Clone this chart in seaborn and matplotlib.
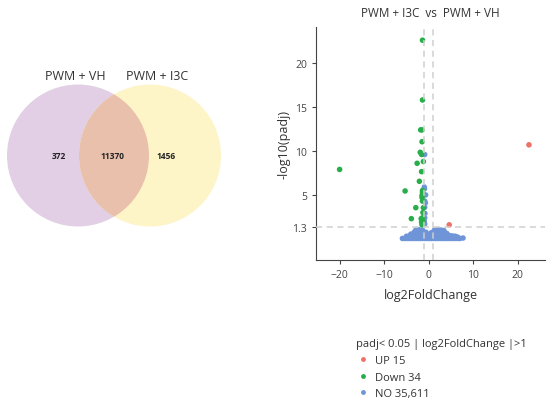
import numpy as np
import pandas as pd
import matplotlib
matplotlib.use("Agg")
import matplotlib.pyplot as plt
from matplotlib.patches import Circle
from matplotlib.lines import Line2D
import seaborn as sns

# Venn counts
venn_sets = ["PWM + VH", "PWM + I3C"]
venn_counts = [372, 11370, 1456]  # only VH, shared, only I3C

# volcano: significant up
up_x = [22.5, 4.6]
up_y = [10.7, 1.6]

# volcano: significant down
down_x = [-1.4, -1.4, -1.8, -1.5, -1.5, -1.9, -1.6, -1.2, -2.6, -1.6, -20.0,
          -2.1, -1.4, -1.4, -5.3, -1.5, -1.5, -1.4, -2.9, -1.2, -1.3, -3.9,
          -1.7, -1.4, -1.5, -1.3, -1.6]
down_y = [22.6, 15.8, 12.4, 12.4, 11.05, 9.85, 9.6, 8.8, 8.6, 7.65, 7.9,
          6.55, 5.5, 5.3, 5.45, 4.95, 4.7, 4.3, 3.55, 3.55, 3.0, 2.3,
          2.3, 2.4, 1.6, 2.0, 1.9]

# volcano: not significant (sketch of the dense cloud)
no_x = [-0.9, -1.0, -0.95, -0.7, -0.9, -0.75, -0.9, -0.85, -0.9, -1.0, -0.9,
        # row near 0
        -5.9, -5.4, -4.9, -4.4, -3.9, -3.4, -2.9, -2.4, -1.9, -1.4, -0.9, -0.4,
        0.1, 0.6, 1.1, 1.6, 2.1, 2.6, 3.1, 3.6, 4.1, 4.6, 5.1, 5.6, 6.1, 6.6, 7.0, 7.7,
        # row 0.3
        -5.0, -4.5, -4.0, -3.5, -3.0, -2.5, -2.0, -1.5, -1.0, -0.5, 0.0, 0.5,
        1.0, 1.5, 2.0, 2.5, 3.0, 3.5, 4.0, 4.5, 5.0, 5.5, 6.0, 6.5,
        # row 0.55
        -4.0, -3.5, -3.0, -2.5, -2.0, -1.5, -1.0, -0.5, 0.3, 0.8, 1.3, 1.8,
        2.3, 2.8, 3.3, 3.8, 4.3, 4.8, 5.4,
        # row 0.8
        -3.2, -2.7, -2.2, -1.7, -1.2, -0.6, 0.6, 1.1, 1.6, 2.1, 2.6, 3.1, 3.6, 4.1,
        # row 1.0
        -2.9, -2.2, -1.4, 1.3, 2.1, 2.8, 3.4]
no_y = [9.6, 5.9, 5.7, 5.0, 4.3, 4.1, 3.6, 2.9, 2.4, 2.0, 1.7,
        0.05, 0.05, 0.05, 0.05, 0.05, 0.05, 0.05, 0.05, 0.05, 0.05, 0.05, 0.05,
        0.05, 0.05, 0.05, 0.05, 0.05, 0.05, 0.05, 0.05, 0.05, 0.05, 0.05, 0.05, 0.05, 0.05, 0.05, 0.1,
        0.3, 0.3, 0.3, 0.3, 0.3, 0.3, 0.3, 0.3, 0.3, 0.3, 0.3, 0.3,
        0.3, 0.3, 0.3, 0.3, 0.3, 0.3, 0.3, 0.3, 0.3, 0.3, 0.3, 0.2,
        0.55, 0.55, 0.55, 0.55, 0.55, 0.55, 0.55, 0.55, 0.55, 0.55, 0.55, 0.55,
        0.55, 0.55, 0.55, 0.55, 0.45, 0.35, 0.3,
        0.8, 0.8, 0.8, 0.8, 0.8, 0.75, 0.7, 0.8, 0.8, 0.8, 0.8, 0.8, 0.75, 0.6,
        1.0, 1.05, 1.0, 1.0, 1.05, 1.0, 0.95]

legend_labels = ["UP 15", "Down 34", "NO 35,611"]
legend_title = "padj< 0.05 | log2FoldChange |>1"

colors = {"UP": "#ee7168", "Down": "#27ae4a", "NO": "#6f94d8"}

sns.set_style("ticks")
plt.rcParams["font.family"] = ["Open Sans", "DejaVu Sans"]

fig = plt.figure(figsize=(5.5, 4.02), dpi=100)

# --- Venn diagram (pixel coordinates of the canvas) ---
ax_v = fig.add_axes([0, 0, 1, 1])
ax_v.set_xlim(0, 550)
ax_v.set_ylim(402, 0)
ax_v.axis("off")

left = Circle((78, 156.5), 71, facecolor="#e2cfe5", edgecolor="none")
right = Circle((150, 156.5), 71, facecolor="#fdf5c8", edgecolor="none")
ax_v.add_patch(left)
ax_v.add_patch(right)
overlap = Circle((78, 156.5), 71, facecolor="#e9c0ac", edgecolor="none")
ax_v.add_patch(overlap)
overlap.set_clip_path(right)

ax_v.text(75, 77, venn_sets[0], ha="center", va="center", fontsize=9, color="#333333")
ax_v.text(157, 77, venn_sets[1], ha="center", va="center", fontsize=9, color="#333333")
for xpos, cnt in zip([59, 112, 166], venn_counts):
    ax_v.text(xpos, 157, str(cnt), ha="center", va="center", fontsize=6,
              fontweight="bold", color="#222222")

# --- volcano plot ---
df = pd.concat([
    pd.DataFrame({"log2FoldChange": no_x, "padj": no_y, "group": "NO"}),
    pd.DataFrame({"log2FoldChange": down_x, "padj": down_y, "group": "Down"}),
    pd.DataFrame({"log2FoldChange": up_x, "padj": up_y, "group": "UP"}),
], ignore_index=True)

ax = fig.add_axes([316 / 550, 1 - 261 / 402, 229 / 550, 233 / 402])
sns.scatterplot(data=df, x="log2FoldChange", y="padj", hue="group", palette=colors,
                s=16, linewidth=0, alpha=1, legend=False, ax=ax)

for xv in [-1, 1]:
    ax.axvline(xv, color="#d0d0d0", linestyle=(0, (4, 3)), linewidth=1.1, zorder=5)
ax.axhline(1.3, color="#d0d0d0", linestyle=(0, (4, 3)), linewidth=1.1, zorder=5)

ax.set_xlim(-25.3, 26.1)
ax.set_ylim(-2.4, 24.1)
ax.set_xticks([-20, -10, 0, 10, 20])
ax.set_xticklabels(["\u221220", "\u221210", "0", "10", "20"])
ax.set_yticks([1.3, 5, 10, 15, 20])
ax.set_yticklabels(["1.3", "5", "10", "15", "20"])
ax.tick_params(labelsize=7.5, colors="#444444", length=3, width=0.8)
for side in ["top", "right"]:
    ax.spines[side].set_visible(False)
for side in ["left", "bottom"]:
    ax.spines[side].set_color("#444444")
    ax.spines[side].set_linewidth(0.8)
ax.set_xlabel("log2FoldChange", fontsize=9, color="#333333", labelpad=6)
ax.set_ylabel("-log10(padj)", fontsize=9, color="#333333", labelpad=1)
ax.set_title("PWM + I3C  vs  PWM + VH", fontsize=8.5, color="#333333", pad=8)

handles = [Line2D([0], [0], marker="o", linestyle="none", markersize=3.5,
                  markerfacecolor=colors[k], markeredgecolor="none")
           for k in ["UP", "Down", "NO"]]
leg = fig.legend(handles, legend_labels, title=legend_title, loc="upper left",
                 bbox_to_anchor=(352 / 550, 1 - 335 / 402), frameon=False,
                 fontsize=8, title_fontsize=8, handletextpad=0.5,
                 labelspacing=0.5, borderaxespad=0, handlelength=1.2)
leg._legend_box.align = "left"
for t in leg.get_texts():
    t.set_color("#333333")
leg.get_title().set_color("#333333")

fig.savefig("out.png", dpi=100)
